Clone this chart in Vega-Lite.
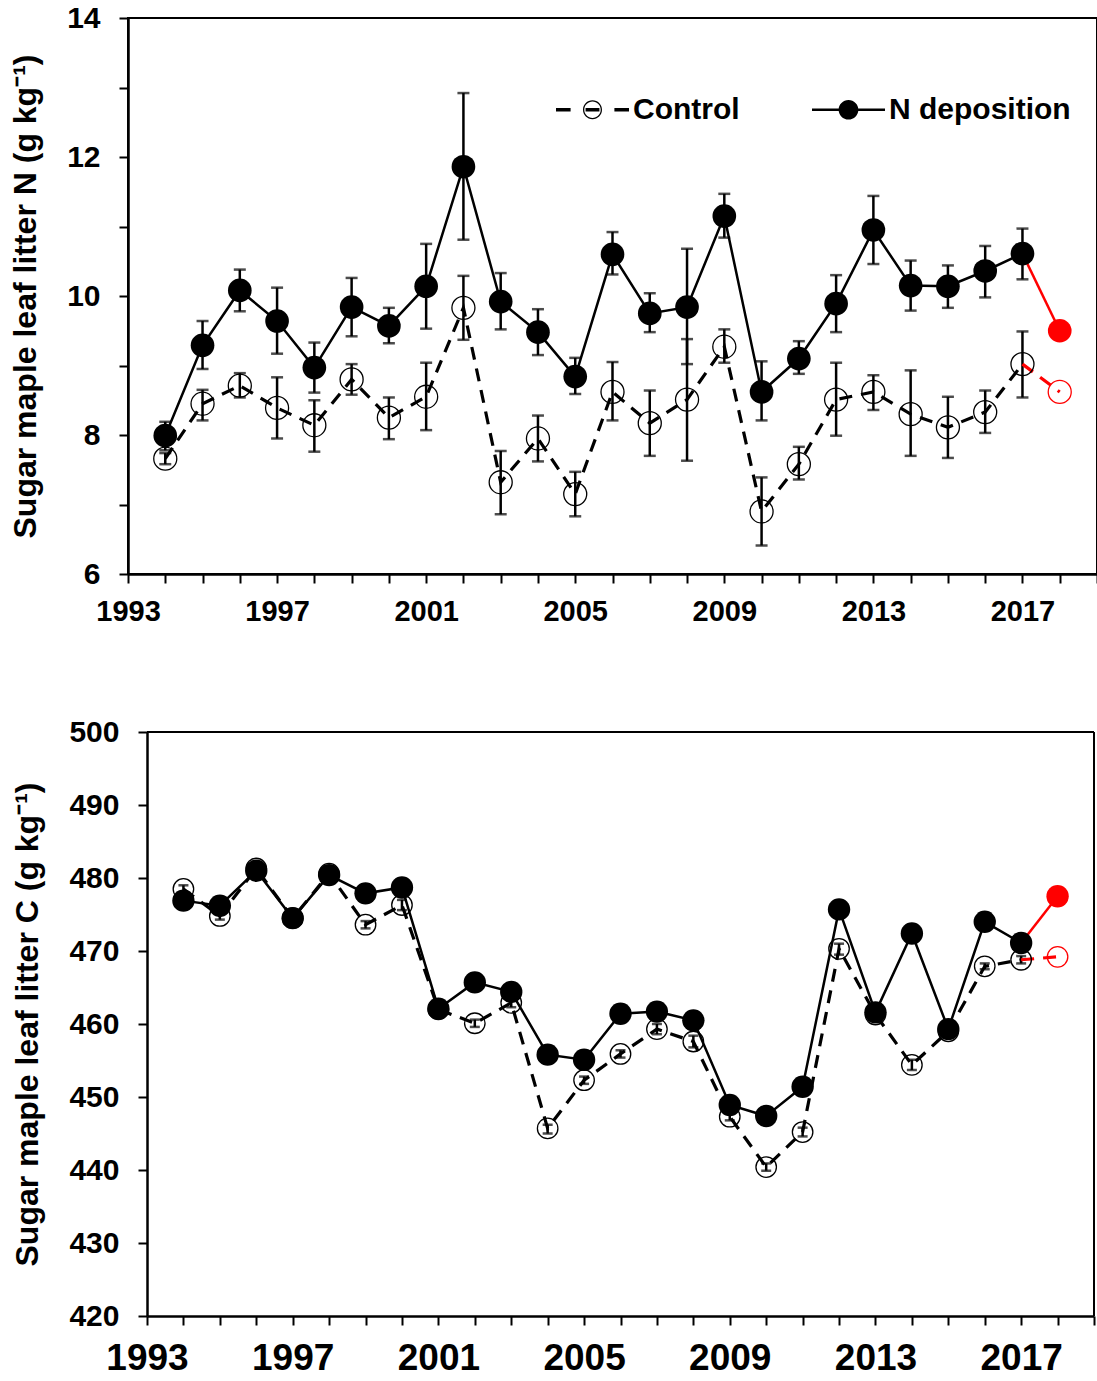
{
  "$schema": "https://vega.github.io/schema/vega-lite/v6.json",
  "background": "white",
  "padding": {"left": 8, "top": 2, "right": 0, "bottom": 0},
  "spacing": 90,
  "config": {
    "view": {"stroke": "black", "strokeWidth": 2},
    "font": "Liberation Sans",
    "axis": {
      "grid": false, "domainColor": "black", "domainWidth": 2.5,
      "tickColor": "black", "tickWidth": 2, "tickSize": 9,
      "labelFont": "Liberation Sans", "labelFontWeight": "bold", "labelColor": "black",
      "titleFont": "Liberation Sans", "titleFontWeight": "bold", "titleColor": "black"
    },
    "legend": {
      "title": null, "orient": "none", "direction": "horizontal",
      "symbolSize": 5329, "labelFontSize": 30, "labelFont": "Liberation Sans", "labelFontWeight": "bold",
      "labelColor": "black", "labelOffset": 4, "columnPadding": 72, "padding": 0, "labelLimit": 0,
      "symbolFillColor": "black", "symbolStrokeWidth": 0, "symbolOpacity": 1
    }
  },
  "datasets": {
    "leafN": [
      {"year": 1994, "series": "N deposition", "value": 7.99, "lo": 7.78, "hi": 8.19},
      {"year": 1994, "series": "Control", "value": 7.66, "lo": 7.58, "hi": 7.74},
      {"year": 1995, "series": "N deposition", "value": 9.29, "lo": 8.95, "hi": 9.64},
      {"year": 1995, "series": "Control", "value": 8.45, "lo": 8.21, "hi": 8.65},
      {"year": 1996, "series": "N deposition", "value": 10.08, "lo": 9.78, "hi": 10.38},
      {"year": 1996, "series": "Control", "value": 8.71, "lo": 8.54, "hi": 8.89},
      {"year": 1997, "series": "N deposition", "value": 9.64, "lo": 9.17, "hi": 10.12},
      {"year": 1997, "series": "Control", "value": 8.39, "lo": 7.95, "hi": 8.83},
      {"year": 1998, "series": "N deposition", "value": 8.97, "lo": 8.61, "hi": 9.33},
      {"year": 1998, "series": "Control", "value": 8.14, "lo": 7.76, "hi": 8.5},
      {"year": 1999, "series": "N deposition", "value": 9.84, "lo": 9.42, "hi": 10.26},
      {"year": 1999, "series": "Control", "value": 8.8, "lo": 8.58, "hi": 9.02},
      {"year": 2000, "series": "N deposition", "value": 9.57, "lo": 9.32, "hi": 9.83},
      {"year": 2000, "series": "Control", "value": 8.25, "lo": 7.94, "hi": 8.54},
      {"year": 2001, "series": "N deposition", "value": 10.14, "lo": 9.53, "hi": 10.75},
      {"year": 2001, "series": "Control", "value": 8.55, "lo": 8.07, "hi": 9.04},
      {"year": 2002, "series": "N deposition", "value": 11.86, "lo": 10.81, "hi": 12.92},
      {"year": 2002, "series": "Control", "value": 9.83, "lo": 9.37, "hi": 10.29},
      {"year": 2003, "series": "N deposition", "value": 9.92, "lo": 9.52, "hi": 10.33},
      {"year": 2003, "series": "Control", "value": 7.32, "lo": 6.86, "hi": 7.77},
      {"year": 2004, "series": "N deposition", "value": 9.48, "lo": 9.15, "hi": 9.81},
      {"year": 2004, "series": "Control", "value": 7.95, "lo": 7.62, "hi": 8.28},
      {"year": 2005, "series": "N deposition", "value": 8.84, "lo": 8.59, "hi": 9.11},
      {"year": 2005, "series": "Control", "value": 7.15, "lo": 6.83, "hi": 7.47},
      {"year": 2006, "series": "N deposition", "value": 10.6, "lo": 10.31, "hi": 10.92},
      {"year": 2006, "series": "Control", "value": 8.62, "lo": 8.21, "hi": 9.05},
      {"year": 2007, "series": "N deposition", "value": 9.75, "lo": 9.48, "hi": 10.04},
      {"year": 2007, "series": "Control", "value": 8.17, "lo": 7.7, "hi": 8.64},
      {"year": 2008, "series": "N deposition", "value": 9.84, "lo": 9.02, "hi": 10.68},
      {"year": 2008, "series": "Control", "value": 8.51, "lo": 7.63, "hi": 9.38},
      {"year": 2009, "series": "N deposition", "value": 11.15, "lo": 10.84, "hi": 11.47},
      {"year": 2009, "series": "Control", "value": 9.27, "lo": 9.04, "hi": 9.52},
      {"year": 2010, "series": "N deposition", "value": 8.62, "lo": 8.21, "hi": 9.06},
      {"year": 2010, "series": "Control", "value": 6.9, "lo": 6.41, "hi": 7.39},
      {"year": 2011, "series": "N deposition", "value": 9.1, "lo": 8.88, "hi": 9.35},
      {"year": 2011, "series": "Control", "value": 7.58, "lo": 7.36, "hi": 7.83},
      {"year": 2012, "series": "N deposition", "value": 9.89, "lo": 9.48, "hi": 10.3},
      {"year": 2012, "series": "Control", "value": 8.51, "lo": 7.99, "hi": 9.04},
      {"year": 2013, "series": "N deposition", "value": 10.95, "lo": 10.46, "hi": 11.44},
      {"year": 2013, "series": "Control", "value": 8.62, "lo": 8.36, "hi": 8.86},
      {"year": 2014, "series": "N deposition", "value": 10.15, "lo": 9.79, "hi": 10.51},
      {"year": 2014, "series": "Control", "value": 8.3, "lo": 7.7, "hi": 8.93},
      {"year": 2015, "series": "N deposition", "value": 10.14, "lo": 9.83, "hi": 10.44},
      {"year": 2015, "series": "Control", "value": 8.11, "lo": 7.67, "hi": 8.55},
      {"year": 2016, "series": "N deposition", "value": 10.36, "lo": 9.98, "hi": 10.72},
      {"year": 2016, "series": "Control", "value": 8.33, "lo": 8.03, "hi": 8.64},
      {"year": 2017, "series": "N deposition", "value": 10.61, "lo": 10.24, "hi": 10.97},
      {"year": 2017, "series": "Control", "value": 9.02, "lo": 8.54, "hi": 9.49},
      {"year": 2018, "series": "N deposition", "value": 9.5},
      {"year": 2018, "series": "Control", "value": 8.62}
    ],
    "leafC": [
      {"year": 1994, "series": "N deposition", "value": 476.9},
      {"year": 1994, "series": "Control", "value": 478.5, "lo": 478.0, "hi": 479.0},
      {"year": 1995, "series": "N deposition", "value": 476.2},
      {"year": 1995, "series": "Control", "value": 474.8, "lo": 474.3, "hi": 475.3},
      {"year": 1996, "series": "N deposition", "value": 481.0},
      {"year": 1996, "series": "Control", "value": 481.3, "lo": 480.8, "hi": 481.8},
      {"year": 1997, "series": "N deposition", "value": 474.5},
      {"year": 1997, "series": "Control", "value": 474.5, "lo": 474.0, "hi": 475.0},
      {"year": 1998, "series": "N deposition", "value": 480.4},
      {"year": 1998, "series": "Control", "value": 480.6, "lo": 480.1, "hi": 481.1},
      {"year": 1999, "series": "N deposition", "value": 477.9},
      {"year": 1999, "series": "Control", "value": 473.6, "lo": 473.1, "hi": 474.1},
      {"year": 2000, "series": "N deposition", "value": 478.7},
      {"year": 2000, "series": "Control", "value": 476.3, "lo": 475.6, "hi": 477.0},
      {"year": 2001, "series": "N deposition", "value": 462.1},
      {"year": 2001, "series": "Control", "value": 462.0, "lo": 461.5, "hi": 462.5},
      {"year": 2002, "series": "N deposition", "value": 465.7},
      {"year": 2002, "series": "Control", "value": 460.1, "lo": 459.6, "hi": 460.6},
      {"year": 2003, "series": "N deposition", "value": 464.4},
      {"year": 2003, "series": "Control", "value": 462.9, "lo": 462.3, "hi": 463.5},
      {"year": 2004, "series": "N deposition", "value": 455.8},
      {"year": 2004, "series": "Control", "value": 445.7, "lo": 445.0, "hi": 446.2},
      {"year": 2005, "series": "N deposition", "value": 455.1},
      {"year": 2005, "series": "Control", "value": 452.3, "lo": 451.8, "hi": 452.8},
      {"year": 2006, "series": "N deposition", "value": 461.4},
      {"year": 2006, "series": "Control", "value": 455.9, "lo": 455.4, "hi": 456.4},
      {"year": 2007, "series": "N deposition", "value": 461.7},
      {"year": 2007, "series": "Control", "value": 459.3, "lo": 458.6, "hi": 460.0},
      {"year": 2008, "series": "N deposition", "value": 460.5},
      {"year": 2008, "series": "Control", "value": 457.6, "lo": 456.8, "hi": 458.4},
      {"year": 2009, "series": "N deposition", "value": 448.9},
      {"year": 2009, "series": "Control", "value": 447.3, "lo": 446.8, "hi": 447.8},
      {"year": 2010, "series": "N deposition", "value": 447.4},
      {"year": 2010, "series": "Control", "value": 440.4, "lo": 439.9, "hi": 440.9},
      {"year": 2011, "series": "N deposition", "value": 451.4},
      {"year": 2011, "series": "Control", "value": 445.2, "lo": 444.6, "hi": 445.8},
      {"year": 2012, "series": "N deposition", "value": 475.7},
      {"year": 2012, "series": "Control", "value": 470.3, "lo": 469.5, "hi": 471.0},
      {"year": 2013, "series": "N deposition", "value": 461.6},
      {"year": 2013, "series": "Control", "value": 461.3, "lo": 460.8, "hi": 461.8},
      {"year": 2014, "series": "N deposition", "value": 472.4},
      {"year": 2014, "series": "Control", "value": 454.4, "lo": 453.7, "hi": 455.1},
      {"year": 2015, "series": "N deposition", "value": 459.3},
      {"year": 2015, "series": "Control", "value": 459.0, "lo": 458.5, "hi": 459.5},
      {"year": 2016, "series": "N deposition", "value": 474.0},
      {"year": 2016, "series": "Control", "value": 467.9, "lo": 467.5, "hi": 468.3},
      {"year": 2017, "series": "N deposition", "value": 471.1},
      {"year": 2017, "series": "Control", "value": 468.8, "lo": 468.3, "hi": 469.3},
      {"year": 2018, "series": "N deposition", "value": 477.5},
      {"year": 2018, "series": "Control", "value": 469.2}
    ]
  },
  "vconcat": [
    {
      "width": 969,
      "height": 556,
      "data": {"name": "leafN"},
      "encoding": {
        "x": {
          "field": "year", "type": "quantitative",
          "scale": {"domain": [1993, 2019], "nice": false, "zero": false},
          "axis": {
            "title": null,
            "values": [1993,1994,1995,1996,1997,1998,1999,2000,2001,2002,2003,2004,2005,2006,2007,2008,2009,2010,2011,2012,2013,2014,2015,2016,2017,2018,2019],
            "format": "d",
            "labelExpr": "(datum.value - 1993) % 4 === 0 ? datum.label : ''",
            "labelFontSize": 29, "labelPadding": 14, "labelFlush": false, "labelOverlap": false
          }
        }
      },
      "layer": [
        {
          "transform": [{"filter": "isValid(datum.lo)"}],
          "mark": {"type": "errorbar", "ticks": {"size": 12, "thickness": 2.5, "color": "black"}, "rule": {"strokeWidth": 2.5, "color": "black"}},
          "encoding": {
            "y": {
              "field": "lo", "type": "quantitative",
              "scale": {"domain": [6, 14], "nice": false, "zero": false},
              "axis": {
                "title": "Sugar maple leaf litter N (g kg⁻¹)",
                "values": [6,7,8,9,10,11,12,13,14],
                "format": "d",
                "labelExpr": "datum.value % 2 === 0 ? datum.label : ''",
                "labelFontSize": 30, "labelPadding": 19, "titlePadding": 24, "titleFontSize": 32,
                "labelFlush": false, "labelOverlap": false
              }
            },
            "y2": {"field": "hi"}
          }
        },
        {
          "transform": [{"filter": "datum.series === 'Control' && datum.year <= 2017"}],
          "mark": {"type": "line", "color": "black", "strokeWidth": 3.2, "strokeDash": [13, 9]},
          "encoding": {"y": {"field": "value", "type": "quantitative", "title": "Sugar maple leaf litter N (g kg⁻¹)"}}
        },
        {
          "transform": [{"filter": "datum.series === 'N deposition' && datum.year <= 2017"}],
          "mark": {"type": "line", "color": "black", "strokeWidth": 2.5},
          "encoding": {"y": {"field": "value", "type": "quantitative", "title": "Sugar maple leaf litter N (g kg⁻¹)"}}
        },
        {
          "transform": [{"filter": "datum.series === 'Control' && datum.year >= 2017"}],
          "mark": {"type": "line", "color": "#ff0000", "strokeWidth": 3.2, "strokeDash": [13, 9]},
          "encoding": {"y": {"field": "value", "type": "quantitative", "title": "Sugar maple leaf litter N (g kg⁻¹)"}}
        },
        {
          "transform": [{"filter": "datum.series === 'N deposition' && datum.year >= 2017"}],
          "mark": {"type": "line", "color": "#ff0000", "strokeWidth": 2.5},
          "encoding": {"y": {"field": "value", "type": "quantitative", "title": "Sugar maple leaf litter N (g kg⁻¹)"}}
        },
        {
          "transform": [{"filter": "datum.series === 'Control'"}],
          "mark": {"type": "point", "shape": "circle", "filled": false, "size": 530, "strokeWidth": 1.3, "opacity": 1},
          "encoding": {
            "y": {"field": "value", "type": "quantitative", "title": "Sugar maple leaf litter N (g kg⁻¹)"},
            "color": {"condition": {"test": "datum.year === 2018", "value": "#ff0000"}, "value": "black"}
          }
        },
        {
          "transform": [{"filter": "datum.series === 'N deposition'"}],
          "mark": {"type": "point", "shape": "circle", "filled": true, "size": 560, "opacity": 1},
          "encoding": {
            "y": {"field": "value", "type": "quantitative", "title": "Sugar maple leaf litter N (g kg⁻¹)"},
            "color": {"condition": {"test": "datum.year === 2018", "value": "#ff0000"}, "value": "black"}
          }
        },
        {
          "transform": [{"filter": "false"}],
          "mark": {"type": "point", "filled": true, "opacity": 1, "color": "black"},
          "encoding": {
            "y": {"field": "value", "type": "quantitative", "title": "Sugar maple leaf litter N (g kg⁻¹)"},
            "shape": {
              "field": "series", "type": "nominal",
              "scale": {
                "domain": ["Control", "N deposition"],
                "range": [
                  "M-1,-0.05H-0.6V0.05H-1ZM-0.19,-0.045H0.19V0.045H-0.19ZM0.6,-0.05H1V0.05H0.6ZM0.26,0A0.26,0.26,0,1,1,-0.26,0A0.26,0.26,0,1,1,0.26,0ZM0.225,0A0.225,0.225,0,1,0,-0.225,0A0.225,0.225,0,1,0,0.225,0Z",
                  "M-1,-0.035H1V0.035H-1ZM0.27,0A0.27,0.27,0,1,1,-0.27,0A0.27,0.27,0,1,1,0.27,0Z"
                ]
              },
              "legend": {"legendX": 428, "legendY": 55}
            }
          }
        }
      ]
    },
    {
      "width": 966,
      "height": 584,
      "view": {"stroke": null},
      "data": {"name": "leafC"},
      "encoding": {
        "x": {
          "field": "year", "type": "quantitative",
          "scale": {"domain": [1993, 2019], "nice": false, "zero": false, "range": [19, 966]},
          "axis": {
            "title": null,
            "values": [1993,1994,1995,1996,1997,1998,1999,2000,2001,2002,2003,2004,2005,2006,2007,2008,2009,2010,2011,2012,2013,2014,2015,2016,2017,2018,2019],
            "format": "d",
            "labelExpr": "(datum.value - 1993) % 4 === 0 ? datum.label : ''",
            "labelFontSize": 37, "labelPadding": 15, "labelFlush": false, "labelOverlap": false
          }
        }
      },
      "layer": [
        {
          "mark": {"type": "rule", "color": "black", "strokeWidth": 2},
          "encoding": {
            "x": {"datum": 1993, "type": "quantitative"},
            "x2": {"datum": 2019},
            "y": {"datum": 500, "type": "quantitative", "title": "Sugar maple leaf litter C (g kg⁻¹)"}
          }
        },
        {
          "mark": {"type": "rule", "color": "black", "strokeWidth": 2},
          "encoding": {
            "x": {"datum": 2019, "type": "quantitative"},
            "y": {"datum": 420, "type": "quantitative", "title": "Sugar maple leaf litter C (g kg⁻¹)"},
            "y2": {"datum": 500}
          }
        },
        {
          "transform": [{"filter": "isValid(datum.lo)"}],
          "mark": {"type": "errorbar", "ticks": {"size": 10, "thickness": 2.5, "color": "black"}, "rule": {"strokeWidth": 2.5, "color": "black"}},
          "encoding": {
            "y": {
              "field": "lo", "type": "quantitative",
              "scale": {"domain": [420, 500], "nice": false, "zero": false},
              "axis": {
                "title": "Sugar maple leaf litter C (g kg⁻¹)",
                "values": [420,425,430,435,440,445,450,455,460,465,470,475,480,485,490,495,500],
                "format": "d",
                "labelExpr": "datum.value % 10 === 0 ? datum.label : ''",
                "labelFontSize": 30, "labelPadding": 19, "titlePadding": 24, "titleFontSize": 32,
                "labelFlush": false, "labelOverlap": false, "offset": -19
              }
            },
            "y2": {"field": "hi"}
          }
        },
        {
          "transform": [{"filter": "datum.series === 'Control' && datum.year <= 2017"}],
          "mark": {"type": "line", "color": "black", "strokeWidth": 3.2, "strokeDash": [13, 9]},
          "encoding": {"y": {"field": "value", "type": "quantitative", "title": "Sugar maple leaf litter C (g kg⁻¹)"}}
        },
        {
          "transform": [{"filter": "datum.series === 'N deposition' && datum.year <= 2017"}],
          "mark": {"type": "line", "color": "black", "strokeWidth": 2.5},
          "encoding": {"y": {"field": "value", "type": "quantitative", "title": "Sugar maple leaf litter C (g kg⁻¹)"}}
        },
        {
          "transform": [{"filter": "datum.series === 'Control' && datum.year >= 2017"}],
          "mark": {"type": "line", "color": "#ff0000", "strokeWidth": 3.2, "strokeDash": [13, 9]},
          "encoding": {"y": {"field": "value", "type": "quantitative", "title": "Sugar maple leaf litter C (g kg⁻¹)"}}
        },
        {
          "transform": [{"filter": "datum.series === 'N deposition' && datum.year >= 2017"}],
          "mark": {"type": "line", "color": "#ff0000", "strokeWidth": 2.5},
          "encoding": {"y": {"field": "value", "type": "quantitative", "title": "Sugar maple leaf litter C (g kg⁻¹)"}}
        },
        {
          "transform": [{"filter": "datum.series === 'Control'"}],
          "mark": {"type": "point", "shape": "circle", "filled": false, "size": 420, "strokeWidth": 1.3, "opacity": 1},
          "encoding": {
            "y": {"field": "value", "type": "quantitative", "title": "Sugar maple leaf litter C (g kg⁻¹)"},
            "color": {"condition": {"test": "datum.year === 2018", "value": "#ff0000"}, "value": "black"}
          }
        },
        {
          "transform": [{"filter": "datum.series === 'N deposition'"}],
          "mark": {"type": "point", "shape": "circle", "filled": true, "size": 500, "opacity": 1},
          "encoding": {
            "y": {"field": "value", "type": "quantitative", "title": "Sugar maple leaf litter C (g kg⁻¹)"},
            "color": {"condition": {"test": "datum.year === 2018", "value": "#ff0000"}, "value": "black"}
          }
        },
        {
          "transform": [{"filter": "false"}],
          "mark": {"type": "point", "filled": true, "opacity": 1, "color": "black"},
          "encoding": {
            "y": {"field": "value", "type": "quantitative", "title": "Sugar maple leaf litter C (g kg⁻¹)"},
            "shape": {
              "field": "series", "type": "nominal",
              "scale": {
                "domain": ["Control", "N deposition"],
                "range": [
                  "M-1,-0.05H-0.6V0.05H-1ZM-0.19,-0.045H0.19V0.045H-0.19ZM0.6,-0.05H1V0.05H0.6ZM0.26,0A0.26,0.26,0,1,1,-0.26,0A0.26,0.26,0,1,1,0.26,0ZM0.225,0A0.225,0.225,0,1,0,-0.225,0A0.225,0.225,0,1,0,0.225,0Z",
                  "M-1,-0.035H1V0.035H-1ZM0.27,0A0.27,0.27,0,1,1,-0.27,0A0.27,0.27,0,1,1,0.27,0Z"
                ]
              },
              "legend": {"legendX": 428, "legendY": 20}
            }
          }
        }
      ]
    }
  ]
}
